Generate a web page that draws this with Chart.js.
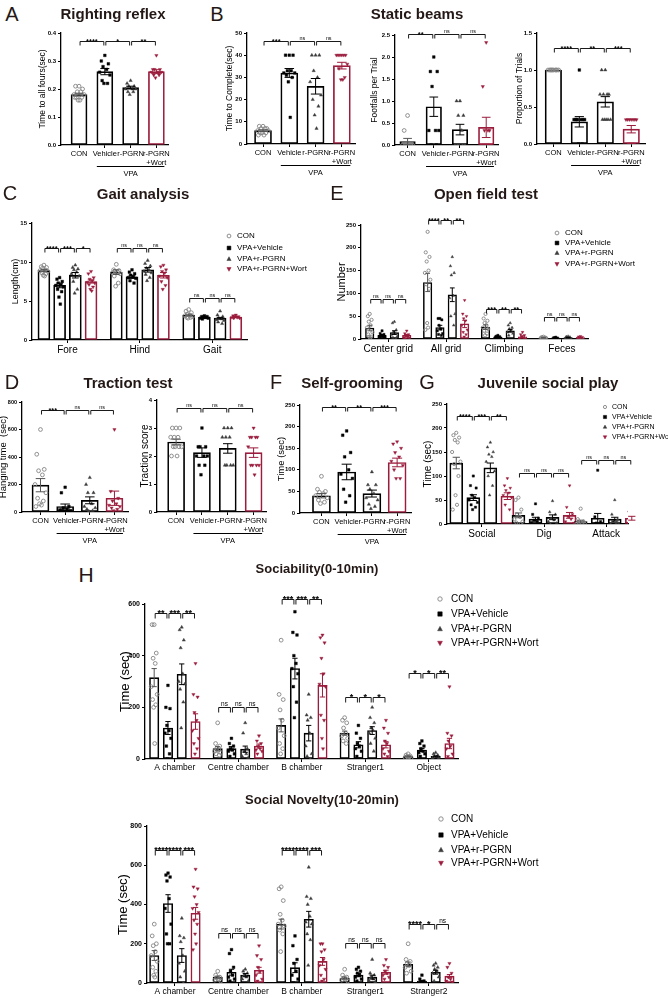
<!DOCTYPE html>
<html>
<head>
<meta charset="utf-8">
<script src="https://cdn.jsdelivr.net/npm/chart.js@4"></script>
<style>
  body { margin: 0; background: #fff; }
  #fig { position: relative; width: 668px; height: 998px; overflow: hidden; font-family: "Liberation Sans", Arial, sans-serif; }
  #fig canvas { position: absolute; }
  .t { position: absolute; transform: translate(-50%, -50%); white-space: nowrap; line-height: 1; color: #231815; }
</style>
</head>
<body>
<div id="fig"></div>
<script>
const FONT = '"Liberation Sans", Arial, sans-serif';
Chart.defaults.font.family = FONT;

const GROUPS = ['CON', 'VPA+Vehicle', 'VPA+r-PGRN', 'VPA+r-PGRN+Wort'];
const BAR_LABELS = ['CON', 'Vehicle', 'r-PGRN', ['r-PGRN', '+Wort']];

// A - righting reflex
const aTicks = [0, 0.1, 0.2, 0.3, 0.4];
const aMean = [0.18, 0.262, 0.205, 0.262];
const aSem = [0.005, 0.011, 0.005, 0.007];
const aPts = [
  [0.21, 0.21, 0.2, 0.19, 0.19, 0.18, 0.18, 0.17, 0.17, 0.16, 0.16, 0.17],
  [0.32, 0.3, 0.29, 0.28, 0.27, 0.26, 0.25, 0.23, 0.22, 0.22],
  [0.23, 0.22, 0.21, 0.21, 0.2, 0.2, 0.2, 0.19, 0.19, 0.18],
  [0.32, 0.27, 0.27, 0.27, 0.26, 0.26, 0.26, 0.25, 0.25, 0.24]
];
const aSig = ['****', '*', '**'];
const aSigY = [0.37];

// B - static beams
const b1Ticks = [0, 10, 20, 30, 40, 50];
const b1Mean = [6, 32, 26, 35.3];
const b1Sem = [0.4, 2, 3.5, 1.5];
const b1Pts = [
  [8, 8, 7, 7, 7, 6, 6, 5, 5, 5, 4, 4],
  [40, 40, 40, 33, 33, 32, 32, 31, 30, 28, 12],
  [40, 40, 40, 33, 30, 28, 22, 20, 17, 13, 7],
  [40, 40, 40, 40, 40, 40, 36, 34, 30, 29, 29]
];
const b1Sig = ['***', 'ns', 'ns'];
const b1SigY = [46.4];

const b2Ticks = [0, 0.5, 1, 1.5, 2, 2.5];
const b2Mean = [0.08, 0.87, 0.35, 0.4];
const b2Sem = [0.07, 0.22, 0.12, 0.23];
const b2Pts = [
  [0.67, 0.33, 0, 0, 0, 0, 0, 0, 0, 0],
  [2, 1.67, 1.67, 1.33, 0.33, 0.33, 0.33, 0, 0],
  [1, 1, 0.67, 0.67, 0.33, 0, 0, 0, 0, 0],
  [2.33, 1.33, 0.33, 0.33, 0.33, 0, 0, 0, 0, 0, 0]
];
const b2Sig = ['**', 'ns', 'ns'];
const b2SigY = [2.52];

const b3Ticks = [0, 0.5, 1, 1.5];
const b3Mean = [1, 0.3, 0.57, 0.2];
const b3Sem = [0, 0.07, 0.07, 0.05];
const b3Pts = [
  [1, 1, 1, 1, 1, 1, 1, 1, 1, 1],
  [1, 0.33, 0.33, 0.33, 0.33, 0.33, 0.33, 0.33, 0, 0],
  [1, 1, 0.67, 0.67, 0.67, 0.67, 0.33, 0.33, 0.33, 0.33, 0.33],
  [0.33, 0.33, 0.33, 0.33, 0.33, 0.33, 0.33, 0, 0, 0, 0]
];
const b3Sig = ['****', '**', '***'];
const b3SigY = [1.3];

// C - gait analysis (per group: Fore, Hind, Gait)
const cCats = ['Fore', 'Hind', 'Gait'];
const cTicks = [0, 5, 10, 15];
const cMean = [[8.9, 8.7, 3.2], [7.0, 8.1, 2.9], [8.3, 9.0, 2.8], [7.5, 8.3, 2.95]];
const cSem = [[0.15, 0.3, 0.1], [0.3, 0.2, 0.05], [0.35, 0.3, 0.1], [0.2, 0.35, 0.06]];
const cPts = [
  [[9.6, 9.4, 9.3, 9.2, 9.0, 8.9, 8.8, 8.6, 8.5, 8.3, 8.2], [9.7, 9.0, 8.9, 8.8, 8.7, 8.6, 8.5, 8.2, 7.3, 6.9], [3.9, 3.7, 3.5, 3.3, 3.2, 3.1, 3.0, 2.9, 2.9, 2.8]],
  [[8.0, 7.8, 7.5, 7.3, 7.1, 7.0, 6.8, 6.5, 6.2, 5.5, 4.6], [9.0, 8.7, 8.5, 8.3, 8.1, 8.0, 7.9, 7.6, 7.3], [3.1, 3.0, 3.0, 2.9, 2.9, 2.8, 2.8, 2.7]],
  [[9.6, 9.3, 9.1, 9.0, 8.7, 8.5, 8.2, 7.5, 6.5, 6.0], [10.2, 9.8, 9.5, 9.2, 9.0, 8.8, 8.6, 8.4, 8.0, 7.6], [3.7, 3.2, 3.0, 2.8, 2.7, 2.6, 2.5, 2.3, 2.1]],
  [[8.8, 8.5, 8.0, 7.8, 7.6, 7.4, 7.3, 7.1, 6.8, 6.5, 6.3], [9.6, 9.4, 9.0, 8.8, 8.6, 8.2, 8.0, 7.5, 7.0, 6.5], [3.2, 3.1, 3.0, 3.0, 2.9, 2.9, 2.8, 2.8]]
];
const cSig = [['****', '***', '*'], ['ns', 'ns', 'ns'], ['ns', 'ns', 'ns']];
const cSigY = [11.8, 11.8, 5.4];

// E - open field test
const eCats = ['Center grid', 'All grid', 'Climbing', 'Feces'];
const eTicks = [0, 50, 100, 150, 200, 250];
const eMean = [[24, 124, 26, 2.5], [8, 25, 4, 2], [14, 97, 18, 3], [8, 33, 5, 3]];
const eSem = [[6, 20, 5, 0.5], [2, 5, 0.8, 0.4], [4, 15, 3, 0.5], [2, 8, 2, 0.5]];
const ePts = [
  [[55, 50, 42, 38, 30, 25, 15, 10, 5, 5, 2], [235, 190, 180, 170, 150, 145, 130, 120, 110, 35, 25, 20], [55, 45, 40, 35, 30, 25, 22, 18, 12, 8], [5, 4, 3, 3, 2, 2, 2, 1, 1]],
  [[18, 12, 10, 8, 6, 5, 4, 3, 2], [45, 45, 42, 30, 22, 18, 12, 10, 8], [8, 6, 5, 4, 3, 3, 2, 2], [4, 3, 2, 2, 1, 1]],
  [[38, 35, 20, 15, 12, 10, 5, 3, 1], [180, 160, 145, 140, 95, 90, 55, 50, 30], [35, 30, 25, 22, 18, 15, 12, 8], [6, 5, 4, 3, 2, 2, 1]],
  [[18, 12, 10, 8, 5, 3, 2, 1], [85, 55, 50, 45, 40, 30, 20, 15, 10, 5], [15, 10, 8, 5, 3, 2, 1], [6, 5, 4, 3, 2, 2]]
];
const eSig = [['ns', 'ns', 'ns'], ['****', '**', '**'], ['***', '**', '**'], ['ns', 'ns', 'ns']];
const eSigY = [88, 261, 66, 48];

// D - traction test
const d1Ticks = [0, 200, 400, 600, 800];
const d1Mean = [195, 40, 85, 100];
const d1Sem = [48, 18, 25, 52];
const d1Pts = [
  [600, 420, 310, 300, 270, 200, 140, 100, 80, 60, 50, 40],
  [180, 140, 40, 30, 20, 15, 10, 10, 5, 5, 0],
  [250, 200, 140, 140, 60, 40, 30, 20, 10, 5],
  [600, 150, 100, 80, 60, 50, 40, 30, 20, 10]
];
const d1Sig = ['***', 'ns', 'ns'];
const d1SigY = [742];

const d2Ticks = [0, 1, 2, 3, 4];
const d2Mean = [2.5, 2.12, 2.27, 2.12];
const d2Sem = [0.1, 0.17, 0.17, 0.17];
const d2Pts = [
  [3, 3, 3, 2.67, 2.67, 2.67, 2.33, 2.33, 2.33, 2.33, 2, 2],
  [3, 2.33, 2.33, 2.33, 2, 2, 2, 1.67, 1.67, 1.33],
  [3, 3, 3, 2.67, 2.67, 2.67, 1.67, 1.67, 1.67, 1.67],
  [3, 2.67, 2.67, 2.67, 2.67, 2.33, 1.67, 1.67, 1.67, 1.67, 1.33]
];
const d2Sig = ['ns', 'ns', 'ns'];
const d2SigY = [3.72];

// F - self-grooming
const fTicks = [0, 50, 100, 150, 200, 250];
const fMean = [40, 95, 45, 117];
const fSem = [5, 18, 8, 10];
const fPts = [
  [85, 55, 50, 48, 45, 40, 35, 30, 25, 22],
  [190, 180, 140, 130, 100, 90, 80, 55, 40, 25],
  [95, 65, 65, 55, 45, 35, 30, 20, 15, 10],
  [165, 160, 150, 140, 130, 120, 110, 100, 80, 80]
];
const fSig = ['**', '**', '***'];
const fSigY = [245];

// G - juvenile social play
const gCats = ['Social', 'Dig', 'Attack'];
const gTicks = [0, 50, 100, 150, 200, 250];
const gMean = [[127, 18, 5], [55, 10, 12], [117, 14, 10], [58, 18, 12]];
const gSem = [[12, 5, 3], [6, 4, 10], [10, 5, 4], [7, 6, 4]];
const gPts = [
  [[190, 185, 180, 175, 170, 150, 130, 125, 100, 60, 40, 30], [55, 50, 30, 20, 15, 10, 5, 3, 0], [32, 10, 5, 2, 1, 0, 0, 0]],
  [[100, 80, 75, 60, 55, 50, 45, 40, 35, 30], [42, 20, 12, 8, 5, 3, 1, 0], [112, 15, 5, 2, 0, 0, 0]],
  [[170, 160, 150, 145, 140, 130, 110, 100, 80, 60], [48, 25, 20, 12, 8, 5, 2, 0], [50, 20, 10, 5, 2, 0, 0]],
  [[95, 80, 75, 70, 65, 60, 55, 40, 30], [80, 35, 20, 15, 10, 5, 2], [40, 25, 15, 10, 5, 2]]
];
const gSig = [['****', '***', '**'], ['ns', 'ns', 'ns'], ['ns', 'ns', 'ns']];
const gSigY = [226, 107, 134];

// H - sociability (0-10 min)
const h1Cats = ['A chamber', 'Centre chamber', 'B chamber', 'Stranger1', 'Object'];
const h1Ticks = [0, 200, 400, 600];
const h1Mean = [[315, 40, 130, 100, 10], [120, 40, 350, 55, 35], [328, 38, 100, 110, 10], [145, 50, 285, 55, 60]];
const h1Sem = [[35, 8, 25, 8, 2], [25, 8, 40, 12, 6], [40, 12, 30, 15, 2], [30, 8, 45, 12, 20]];
const h1Pts = [
  [[520, 520, 410, 390, 370, 280, 250, 230, 210, 200, 60], [140, 60, 50, 40, 35, 30, 25, 20, 15], [460, 250, 230, 190, 150, 120, 90, 60, 40, 20], [160, 150, 140, 120, 100, 90, 80, 70, 60], [20, 15, 12, 10, 8, 6, 5]],
  [[285, 200, 195, 130, 110, 100, 80, 50, 20, 0], [80, 60, 50, 40, 35, 30, 20, 10], [570, 490, 480, 400, 370, 350, 330, 280, 220, 160], [130, 100, 80, 60, 50, 40, 30, 10, 0], [70, 60, 50, 40, 30, 25, 20, 10]],
  [[510, 500, 460, 430, 330, 300, 290, 270, 220, 120], [140, 100, 40, 30, 20, 10, 5], [250, 170, 160, 150, 100, 50, 20, 10, 0], [200, 160, 140, 120, 110, 100, 80, 60, 30], [25, 20, 15, 10, 8, 5, 3]],
  [[370, 250, 240, 180, 150, 110, 80, 60, 40, 20], [90, 70, 60, 50, 40, 35, 30, 20], [480, 470, 450, 390, 330, 290, 280, 170, 150, 80, 40], [150, 120, 100, 70, 60, 40, 30, 20, 10], [280, 100, 90, 70, 50, 40, 20, 10]]
];
const h1Sig = [['**', '***', '**'], ['ns', 'ns', 'ns'], ['***', '***', '**'], ['*', '*', '*'], ['*', '*', '**']];
const h1SigY = [565, 200, 620, 240, 333];

// H - social novelty (10-20 min)
const h2Cats = ['A chamber', 'Centre chamber', 'B chamber', 'Stranger1', 'Stranger2'];
const h2Ticks = [0, 200, 400, 600, 800];
const h2Mean = [[140, 30, 300, 25, 95], [405, 55, 78, 40, 10], [140, 40, 325, 30, 55], [355, 65, 110, 55, 35]];
const h2Sem = [[25, 5, 25, 5, 12], [45, 15, 25, 8, 3], [35, 8, 40, 10, 10], [30, 15, 20, 10, 8]];
const h2Pts = [
  [[300, 240, 200, 190, 160, 140, 110, 80, 60, 40, 30], [60, 40, 30, 25, 20, 15, 10], [490, 480, 420, 350, 320, 300, 290, 270, 250, 160], [70, 40, 30, 25, 20, 15, 10], [200, 120, 110, 100, 90, 80, 60, 50]],
  [[560, 550, 540, 520, 430, 380, 300, 250, 200, 200], [170, 150, 80, 60, 40, 30, 20, 10], [240, 190, 120, 100, 60, 40, 20, 0], [80, 70, 60, 50, 40, 30, 20, 10], [40, 20, 10, 5, 3, 0]],
  [[330, 240, 230, 210, 140, 100, 60, 30, 0], [70, 60, 50, 40, 30, 20, 10], [590, 440, 430, 400, 340, 310, 300, 250, 220, 90], [120, 50, 40, 30, 20, 10, 5], [100, 90, 80, 70, 60, 50, 30, 10]],
  [[580, 490, 480, 440, 400, 380, 360, 320, 300, 250, 200, 170], [190, 140, 120, 80, 60, 40, 20, 10], [200, 200, 170, 160, 120, 90, 70, 40, 20, 10], [120, 90, 80, 60, 50, 40, 30, 20], [100, 80, 50, 30, 20, 10, 5]]
];
const h2Sig = [['****', '****', '***'], ['ns', 'ns', 'ns'], ['****', '****', '***'], ['ns', 'ns', 'ns'], ['****', '*', 'ns']];
const h2SigY = [678, 255, 678, 205, 300];

// ---- drawing ----
const fig = document.getElementById('fig');
const ink = ['#000', '#000', '#000', '#9b1c3c'];
const dotFill = ['rgba(0,0,0,0)', '#000', '#3c3c3c', '#9b1c3c'];
const dotLine = ['#858585', '#000', '#3c3c3c', '#9b1c3c'];
const dotStyle = ['circle', 'rect', 'triangle', 'triangle'];
const dotRot = [0, 0, 0, 180];
const JIT = [0, -0.55, 0.55, -0.28, 0.28, -0.8, 0.8, -0.42, 0.42, -0.14, 0.14, -0.68, 0.68];

function txt(s, x, y, size, weight) {
  const d = document.createElement('div');
  d.className = 't';
  d.textContent = s;
  d.style.left = x + 'px';
  d.style.top = y + 'px';
  d.style.fontSize = size + 'px';
  d.style.fontWeight = weight || 'normal';
  fig.appendChild(d);
}

function marker(ctx, g, x, y, r) {
  ctx.save();
  ctx.fillStyle = dotFill[g];
  ctx.strokeStyle = dotLine[g];
  ctx.lineWidth = g === 0 ? 0.9 : 0.5;
  ctx.beginPath();
  if (g === 0) ctx.arc(x, y, r, 0, Math.PI * 2);
  else if (g === 1) ctx.rect(x - r, y - r, r * 2, r * 2);
  else if (g === 2) { ctx.moveTo(x, y - r * 1.2); ctx.lineTo(x + r * 1.1, y + r * 0.8); ctx.lineTo(x - r * 1.1, y + r * 0.8); ctx.closePath(); }
  else { ctx.moveTo(x, y + r * 1.2); ctx.lineTo(x + r * 1.1, y - r * 0.8); ctx.lineTo(x - r * 1.1, y - r * 0.8); ctx.closePath(); }
  ctx.fill();
  ctx.stroke();
  ctx.restore();
}

function panel(c) {
  const single = !c.cats;
  const off = single ? [0, 1, 2, 3] : [-1.5, -0.5, 0.5, 1.5].map(k => k * c.gs);
  const means = single ? c.mean.map(v => [v]) : c.mean;
  const sems = single ? c.sem.map(v => [v]) : c.sem;
  const pts = single ? c.pts.map(p => [p]) : c.pts;
  const sig = single ? [c.sig] : c.sig;
  const xTicks = single ? [0, 1, 2, 3] : c.cats.map((_, i) => i);
  const xLabels = single ? BAR_LABELS : c.cats;

  const yw = Math.round(c.axisX - c.titleX + c.ytf * 0.6);
  const pt = 34, xh = single ? 36 : 20, pr = c.pr || 20;
  const left = c.axisX - yw, top = c.yTop - pt;
  const W = Math.round(yw + c.axisEnd - c.axisX + pr);
  const H = Math.round(pt + c.y0 - c.yTop + xh);
  const cv = document.createElement('canvas');
  cv.width = W; cv.height = H;
  cv.style.left = left + 'px'; cv.style.top = top + 'px';
  cv.style.width = W + 'px'; cv.style.height = H + 'px';
  fig.appendChild(cv);

  const pxPerUnit = (c.axisEnd - c.axisX) / (c.xMax - c.xMin);
  const jw = c.bw * 0.4 / pxPerUnit;
  const ds = [];
  for (let g = 0; g < 4; g++) {
    const d = [];
    pts[g].forEach((arr, ci) => arr.forEach((v, k) => d.push({ x: ci + off[g] + JIT[k % JIT.length] * jw, y: v })));
    ds.push({
      type: 'scatter', order: 1, data: d, pointStyle: dotStyle[g], pointRotation: dotRot[g],
      pointRadius: c.ps || 1.9, pointBackgroundColor: dotFill[g], pointBorderColor: dotLine[g],
      pointBorderWidth: g === 0 ? 0.9 : 0.4
    });
  }
  for (let g = 0; g < 4; g++) {
    ds.push({
      type: 'bar', order: 2, grouped: false,
      data: means[g].map((m, ci) => ({ x: ci + off[g], y: m })),
      backgroundColor: '#fff', borderColor: ink[g], borderWidth: c.lw || 1.7,
      borderSkipped: false, barThickness: c.bw
    });
  }

  const extras = {
    id: 'extras',
    afterDatasetsDraw(chart) {
      const { ctx, chartArea } = chart;
      const x = chart.scales.x, y = chart.scales.y;
      ctx.save();
      // mean +/- SEM
      means.forEach((row, g) => row.forEach((m, ci) => {
        const s = sems[g][ci];
        if (!s) return;
        const xp = x.getPixelForValue(ci + off[g]);
        const y1 = y.getPixelForValue(m + s), y2 = y.getPixelForValue(Math.max(0, m - s));
        const cap = c.bw * 0.28;
        ctx.strokeStyle = g === 0 ? '#555' : ink[g];
        ctx.lineWidth = 1;
        ctx.beginPath();
        ctx.moveTo(xp, y1); ctx.lineTo(xp, y2);
        ctx.moveTo(xp - cap, y1); ctx.lineTo(xp + cap, y1);
        ctx.moveTo(xp - cap, y2); ctx.lineTo(xp + cap, y2);
        ctx.stroke();
      }));
      // significance brackets
      const tk = c.tk || 4, sf = c.sf || 7.5;
      ctx.strokeStyle = '#000'; ctx.fillStyle = '#000'; ctx.lineWidth = 0.9;
      ctx.textAlign = 'center'; ctx.textBaseline = 'alphabetic';
      sig.forEach((labs, ci) => labs.forEach((t, k) => {
        const xa = x.getPixelForValue(ci + off[k]) + 1;
        const xb = x.getPixelForValue(ci + off[k + 1]) - 1;
        const yy = Math.round(y.getPixelForValue(c.sigY[ci])) + 0.5;
        ctx.beginPath();
        ctx.moveTo(xa, yy + tk); ctx.lineTo(xa, yy); ctx.lineTo(xb, yy); ctx.lineTo(xb, yy + tk);
        ctx.stroke();
        if (t === 'ns') {
          ctx.font = `${(sf * 0.72).toFixed(1)}px ${FONT}`;
          ctx.fillText(t, (xa + xb) / 2, yy - 2);
        } else {
          ctx.font = `bold ${sf}px ${FONT}`;
          ctx.fillText(t, (xa + xb) / 2, yy + sf * 0.28);
        }
      }));
      // VPA underline
      if (single) {
        const half = c.bw / 2 / pxPerUnit;
        const xa = x.getPixelForValue(1 - half), xb = x.getPixelForValue(3 + half);
        const yy = chartArea.bottom + 21.5;
        ctx.lineWidth = 1;
        ctx.beginPath(); ctx.moveTo(xa, yy); ctx.lineTo(xb, yy); ctx.stroke();
        ctx.font = `${c.xf || 7.5}px ${FONT}`;
        ctx.textBaseline = 'middle';
        ctx.fillText('VPA', (xa + xb) / 2, yy + 7);
      }
      // legend
      if (c.legend) {
        const L = c.legend;
        GROUPS.forEach((name, g) => {
          const py = L.ys[g] - top;
          marker(ctx, g, L.mx - left, py, L.r || 1.9);
          ctx.fillStyle = '#000';
          ctx.font = `${L.f}px ${FONT}`;
          ctx.textAlign = 'left'; ctx.textBaseline = 'middle';
          ctx.fillText(name, L.tx - left, py);
        });
      }
      ctx.restore();
    }
  };

  new Chart(cv, {
    type: 'bar',
    data: { datasets: ds },
    options: {
      responsive: false, animation: false, devicePixelRatio: 1, events: [],
      layout: { padding: { left: 0, top: pt, right: pr, bottom: 0 }, autoPadding: false },
      plugins: { legend: { display: false }, tooltip: { enabled: false } },
      scales: {
        x: {
          type: 'linear', min: c.xMin, max: c.xMax, offset: false,
          afterBuildTicks: s => { s.ticks = xTicks.map(v => ({ value: v })); },
          afterFit: s => { s.height = xh; },
          ticks: { autoSkip: false, maxRotation: 0, minRotation: 0, padding: 1, color: '#000',
                   font: { size: c.xf || 7.5 }, callback: (v, i) => xLabels[i] },
          grid: { offset: false, drawOnChartArea: false, tickLength: 3, color: '#000', lineWidth: 1 },
          border: { color: '#000', width: 1.3 }
        },
        y: {
          min: c.yTicks[0], max: c.yTicks[c.yTicks.length - 1],
          afterBuildTicks: s => { s.ticks = c.yTicks.map(v => ({ value: v })); },
          afterFit: s => { s.width = yw; },
          ticks: { padding: 2, color: '#000', font: { size: c.tf || 6, weight: 'bold' },
                   callback: v => c.dec ? v.toFixed(c.dec) : v },
          grid: { drawOnChartArea: false, tickLength: 3, color: '#000', lineWidth: 1 },
          border: { color: '#000', width: 1.3 },
          title: { display: true, text: c.ytitle, color: '#000', font: { size: c.ytf }, padding: 0 }
        }
      }
    },
    plugins: [extras]
  });
}

panel({ mean: aMean, sem: aSem, pts: aPts, sig: aSig, sigY: aSigY, yTicks: aTicks, dec: 1,
  axisX: 61, axisEnd: 168, yTop: 33, y0: 145, xMin: -0.7, xMax: 3.45, bw: 16,
  ytitle: 'Time to all fours(sec)', titleX: 43, ytf: 8.5 });
panel({ mean: b1Mean, sem: b1Sem, pts: b1Pts, sig: b1Sig, sigY: b1SigY, yTicks: b1Ticks,
  axisX: 247, axisEnd: 355, yTop: 33, y0: 144, xMin: -0.61, xMax: 3.5, bw: 17,
  ytitle: 'Time to Complete(sec)', titleX: 230, ytf: 8.5 });
panel({ mean: b2Mean, sem: b2Sem, pts: b2Pts, sig: b2Sig, sigY: b2SigY, yTicks: b2Ticks, dec: 1,
  axisX: 395, axisEnd: 498, yTop: 35, y0: 145, xMin: -0.48, xMax: 3.45, bw: 15.5,
  ytitle: 'Footfalls per Trial', titleX: 375, ytf: 8.5 });
panel({ mean: b3Mean, sem: b3Sem, pts: b3Pts, sig: b3Sig, sigY: b3SigY, yTicks: b3Ticks, dec: 1,
  axisX: 537, axisEnd: 645, yTop: 33, y0: 144, xMin: -0.63, xMax: 3.53, bw: 16.5,
  ytitle: 'Proportion of Trials', titleX: 520, ytf: 8.5 });
panel({ cats: cCats, mean: cMean, sem: cSem, pts: cPts, sig: cSig, sigY: cSigY, yTicks: cTicks,
  axisX: 32, axisEnd: 247, yTop: 223, y0: 340, xMin: -0.49, xMax: 2.48, gs: 0.217, bw: 12,
  ytitle: 'Length(cm)', titleX: 15, ytf: 9, xf: 10, pr: 70,
  legend: { mx: 229, tx: 237, ys: [236, 248, 259, 269], f: 8 } });
panel({ cats: eCats, mean: eMean, sem: eSem, pts: ePts, sig: eSig, sigY: eSigY, yTicks: eTicks,
  axisX: 361, axisEnd: 588, yTop: 225, y0: 339, xMin: -0.47, xMax: 3.45, gs: 0.213, bw: 8.5,
  ytitle: 'Number', titleX: 342, ytf: 11, xf: 10, pr: 50, ps: 1.6, lw: 1.5,
  legend: { mx: 557, tx: 565, ys: [233, 243, 253, 264], f: 8 } });
panel({ mean: d1Mean, sem: d1Sem, pts: d1Pts, sig: d1Sig, sigY: d1SigY, yTicks: d1Ticks,
  axisX: 22, axisEnd: 128, yTop: 402, y0: 512, xMin: -0.75, xMax: 3.55, bw: 17,
  ytitle: 'Hanging time  (sec)', titleX: 4, ytf: 9.5, tf: 5.5 });
panel({ mean: d2Mean, sem: d2Sem, pts: d2Pts, sig: d2Sig, sigY: d2SigY, yTicks: d2Ticks,
  axisX: 157, axisEnd: 266, yTop: 400, y0: 512, xMin: -0.74, xMax: 3.48, bw: 17,
  ytitle: 'Traction score', titleX: 145, ytf: 10 });
panel({ mean: fMean, sem: fSem, pts: fPts, sig: fSig, sigY: fSigY, yTicks: fTicks,
  axisX: 300, axisEnd: 411, yTop: 405, y0: 513, xMin: -0.85, xMax: 3.55, bw: 18,
  ytitle: 'Time (sec)', titleX: 282, ytf: 9.5 });
panel({ cats: gCats, mean: gMean, sem: gSem, pts: gPts, sig: gSig, sigY: gSigY, yTicks: gTicks,
  axisX: 447, axisEnd: 628, yTop: 404, y0: 524, xMin: -0.56, xMax: 2.35, gs: 0.274, bw: 13,
  ytitle: 'Time (sec)', titleX: 428, ytf: 10, xf: 10, pr: 42, ps: 1.6,
  legend: { mx: 605, tx: 612, ys: [407, 417, 427, 437], f: 7, r: 1.6 } });
panel({ cats: h1Cats, mean: h1Mean, sem: h1Sem, pts: h1Pts, sig: h1Sig, sigY: h1SigY, yTicks: h1Ticks,
  axisX: 145, axisEnd: 458, yTop: 604, y0: 759, xMin: -0.47, xMax: 4.46, gs: 0.217, bw: 9.4,
  ytitle: 'Time (sec)', titleX: 126, ytf: 13, xf: 8.5, tf: 7, pr: 90, ps: 1.9, sf: 9, tk: 5, lw: 1.6,
  legend: { mx: 440, tx: 451, ys: [599, 614, 629, 643], f: 10, r: 2.2 } });
panel({ cats: h2Cats, mean: h2Mean, sem: h2Sem, pts: h2Pts, sig: h2Sig, sigY: h2SigY, yTicks: h2Ticks,
  axisX: 147, axisEnd: 458, yTop: 826, y0: 983, xMin: -0.44, xMax: 4.46, gs: 0.217, bw: 9.4,
  ytitle: 'Time (sec)', titleX: 124, ytf: 13, xf: 8.5, tf: 7, pr: 90, ps: 1.9, sf: 9, tk: 5, lw: 1.6,
  legend: { mx: 441, tx: 451, ys: [819, 835, 850, 863], f: 10, r: 2.2 } });

// panel letters and titles
[['A', 12, 14], ['B', 217, 14], ['C', 10, 193], ['E', 337, 193], ['D', 12, 382], ['F', 276, 382], ['G', 427, 382]]
  .forEach(([s, x, y]) => txt(s, x, y, 20));
txt('H', 86, 574, 21);
txt('Righting reflex', 113, 13, 15, 'bold');
txt('Static beams', 417, 13, 15, 'bold');
txt('Gait analysis', 143, 193, 15, 'bold');
txt('Open field test', 486, 193, 15, 'bold');
txt('Traction test', 128, 382, 15, 'bold');
txt('Self-grooming', 352, 382, 15, 'bold');
txt('Juvenile social play', 548, 382, 15, 'bold');
txt('Sociability(0-10min)', 317, 568, 13, 'bold');
txt('Social Novelty(10-20min)', 322, 799, 13, 'bold');
</script>
</body>
</html>
